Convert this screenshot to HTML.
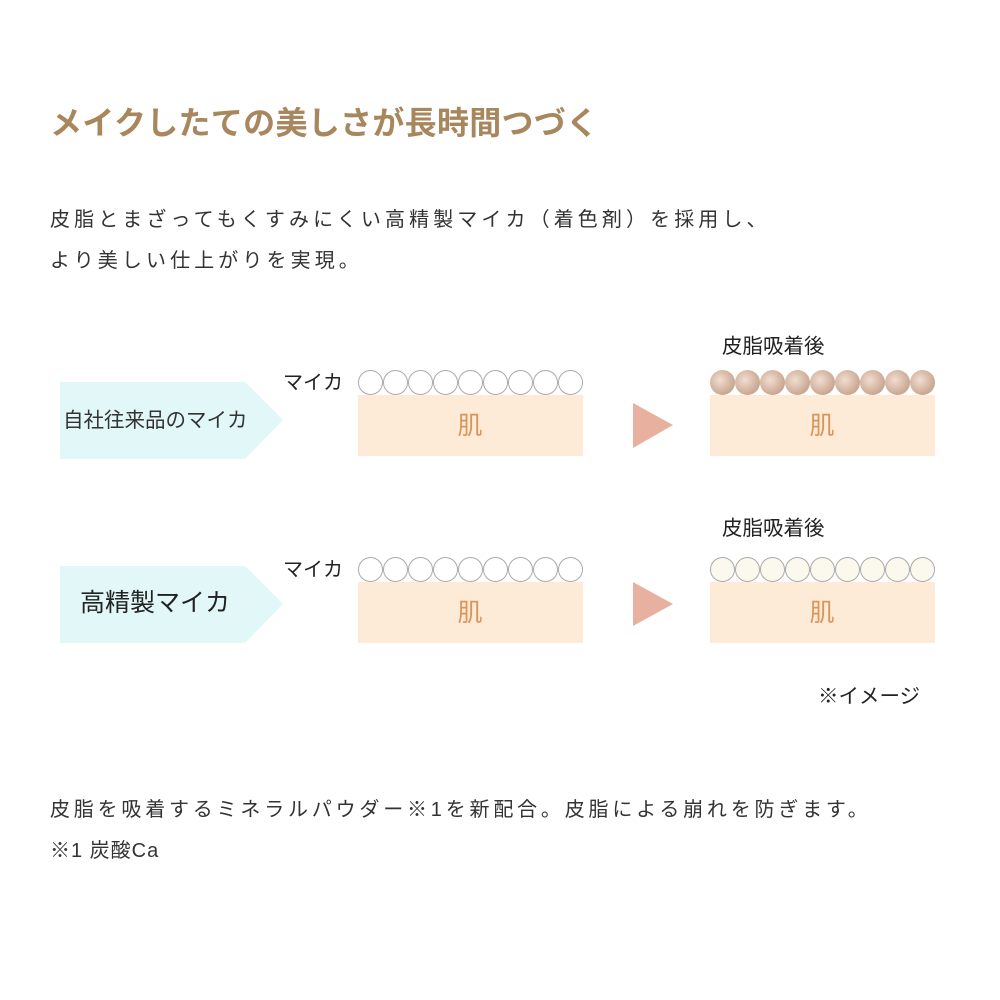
<!DOCTYPE html>
<html><head><meta charset="utf-8"><style>
body{margin:0;width:1000px;height:1000px;background:#fff;position:relative;overflow:hidden;font-family:"Liberation Sans","Noto Sans CJK JP",sans-serif;}
.t{position:absolute;white-space:nowrap;}
.h{left:50px;top:98px;font-size:32px;font-weight:bold;color:#a8875f;letter-spacing:0.3px;}
.p{left:50px;font-size:20px;color:#333;letter-spacing:4.1px;}
</style></head><body>
<div class="t h">メイクしたての美しさが長時間つづく</div>
<div class="t p" style="top:203px">皮脂とまざってもくすみにくい高精製マイカ（着色剤）を採用し、</div>
<div class="t p" style="top:244px">より美しい仕上がりを実現。</div>
<div class="t p" style="top:793px;letter-spacing:3.8px">皮脂を吸着するミネラルパウダー※1を新配合。皮脂による崩れを防ぎます。</div>
<div class="t p" style="top:834px;letter-spacing:1px">※1 炭酸Ca</div>
<svg width="1000" height="1000" style="position:absolute;left:0;top:0" font-family="Liberation Sans, Noto Sans CJK JP, sans-serif">
<defs>
<radialGradient id="g" cx="0.4" cy="0.4" r="0.6"><stop offset="0" stop-color="#f1ddd0"/><stop offset="1" stop-color="#c9a690"/></radialGradient>
</defs>
<polygon points="60,382 245,382 283,420 245,459 60,459" fill="#e2f8f8"/>
<text x="63" y="427" font-size="20.5" fill="#333">自社往来品のマイカ</text>
<text x="283" y="389" font-size="20" fill="#222">マイカ</text>
<rect x="358" y="395" width="225" height="61" fill="#fdebd8"/>
<text x="470" y="434" font-size="25" fill="#d9965a" text-anchor="middle">肌</text>
<g fill="#fff" stroke="#aaa" stroke-width="1">
<circle cx="370.5" cy="382.5" r="12"/><circle cx="395.5" cy="382.5" r="12"/><circle cx="420.5" cy="382.5" r="12"/><circle cx="445.5" cy="382.5" r="12"/><circle cx="470.5" cy="382.5" r="12"/><circle cx="495.5" cy="382.5" r="12"/><circle cx="520.5" cy="382.5" r="12"/><circle cx="545.5" cy="382.5" r="12"/><circle cx="570.5" cy="382.5" r="12"/>
</g>
<polygon points="633,403 673,425 633,448" fill="#e8b09e"/>
<text x="722" y="353" font-size="20.5" fill="#222">皮脂吸着後</text>
<rect x="710" y="395" width="225" height="61" fill="#fdebd8"/>
<text x="822" y="434" font-size="25" fill="#d9965a" text-anchor="middle">肌</text>
<g fill="url(#g)">
<circle cx="722.5" cy="382.5" r="12.5"/><circle cx="747.5" cy="382.5" r="12.5"/><circle cx="772.5" cy="382.5" r="12.5"/><circle cx="797.5" cy="382.5" r="12.5"/><circle cx="822.5" cy="382.5" r="12.5"/><circle cx="847.5" cy="382.5" r="12.5"/><circle cx="872.5" cy="382.5" r="12.5"/><circle cx="897.5" cy="382.5" r="12.5"/><circle cx="922.5" cy="382.5" r="12.5"/>
</g>
<polygon points="60,566 245,566 283,604 245,643 60,643" fill="#e2f8f8"/>
<text x="80" y="611" font-size="25" fill="#222">高精製マイカ</text>
<text x="283" y="576" font-size="20" fill="#222">マイカ</text>
<rect x="358" y="582" width="225" height="61" fill="#fdebd8"/>
<text x="470" y="621" font-size="25" fill="#d9965a" text-anchor="middle">肌</text>
<g fill="#fff" stroke="#aaa" stroke-width="1">
<circle cx="370.5" cy="569.5" r="12"/><circle cx="395.5" cy="569.5" r="12"/><circle cx="420.5" cy="569.5" r="12"/><circle cx="445.5" cy="569.5" r="12"/><circle cx="470.5" cy="569.5" r="12"/><circle cx="495.5" cy="569.5" r="12"/><circle cx="520.5" cy="569.5" r="12"/><circle cx="545.5" cy="569.5" r="12"/><circle cx="570.5" cy="569.5" r="12"/>
</g>
<polygon points="633,582 673,604 633,626" fill="#e8b09e"/>
<text x="722" y="535" font-size="20.5" fill="#222">皮脂吸着後</text>
<rect x="710" y="582" width="225" height="61" fill="#fdebd8"/>
<text x="822" y="621" font-size="25" fill="#d9965a" text-anchor="middle">肌</text>
<g fill="#fbf8ee" stroke="#aaa" stroke-width="1">
<circle cx="722.5" cy="569.5" r="12"/><circle cx="747.5" cy="569.5" r="12"/><circle cx="772.5" cy="569.5" r="12"/><circle cx="797.5" cy="569.5" r="12"/><circle cx="822.5" cy="569.5" r="12"/><circle cx="847.5" cy="569.5" r="12"/><circle cx="872.5" cy="569.5" r="12"/><circle cx="897.5" cy="569.5" r="12"/><circle cx="922.5" cy="569.5" r="12"/>
</g>
<text x="818" y="703" font-size="20.5" fill="#222">※イメージ</text>
</svg>
</body></html>
